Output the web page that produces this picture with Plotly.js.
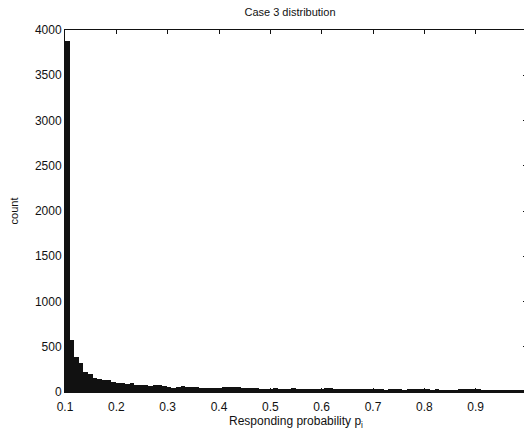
<!DOCTYPE html>
<html>
<head>
<meta charset="utf-8">
<script src="https://cdn.plot.ly/plotly-3.0.1.min.js"></script>
<style>
html,body{margin:0;padding:0;overflow:hidden;background:#fff;}
#chart{width:540px;height:435px;}
</style>
</head>
<body>
<div id="chart"></div>
<script>
// Histogram of responding probability (100 bins from 0.1 to 1.0)
const binStart = 0.1;
const binWidth = 0.009;
const counts = [
  3880, 580, 390, 320, 220, 200, 155, 145, 133, 130,
  110, 100, 95, 85, 95, 80, 80, 82, 70, 82,
  78, 62, 56, 46, 60, 66, 56, 54, 50, 48,
  45, 44, 42, 48, 50, 56, 58, 52, 46, 44,
  42, 40, 38, 36, 38, 42, 36, 34, 38, 40,
  34, 32, 34, 36, 32, 36, 42, 44, 36, 32,
  30, 30, 28, 32, 30, 34, 36, 30, 28, 26,
  28, 30, 28, 26, 28, 30, 32, 34, 28, 26,
  28, 24, 26, 22, 18, 30, 36, 34, 30, 28,
  26, 24, 26, 24, 26, 24, 22, 24, 22, 26
];
const xTickVals = [0.1, 0.2, 0.3, 0.4, 0.5, 0.6, 0.7, 0.8, 0.9, 1.0];
const xTickText = ["0.1", "0.2", "0.3", "0.4", "0.5", "0.6", "0.7", "0.8", "0.9", "1"];
const yTickVals = [0, 500, 1000, 1500, 2000, 2500, 3000, 3500, 4000];

const binCenters = counts.map((_, i) => binStart + binWidth * (i + 0.5));

const font = {family: "Liberation Sans, Arial, sans-serif", size: 12, color: "#111"};

const trace = {
  type: "bar",
  x: binCenters,
  y: counts,
  width: binWidth,
  marker: {color: "#111", line: {width: 0}},
  hoverinfo: "x+y"
};

const layout = {
  width: 540,
  height: 435,
  margin: {l: 65, r: 13, t: 30, b: 43},
  paper_bgcolor: "#fff",
  plot_bgcolor: "#fff",
  font: font,
  showlegend: false,
  bargap: 0,
  title: {
    text: "Case 3 distribution",
    font: {family: "Liberation Sans, Arial, sans-serif", size: 11, color: "#111"},
    xref: "container", x: 290/540, xanchor: "center",
    yref: "container", y: 1 - 12/435, yanchor: "middle"
  },
  xaxis: {
    range: [0.1, 1.0],
    tickvals: xTickVals,
    ticktext: xTickText,
    ticks: "inside",
    ticklen: 4,
    tickcolor: "#111",
    showline: true,
    linecolor: "#111",
    linewidth: 1,
    mirror: "ticks",
    showgrid: false,
    zeroline: false,
    ticklabelstandoff: 4,
    tickfont: font,
    title: {text: "Responding probability p<sub>i</sub>", font: font, standoff: 2}
  },
  yaxis: {
    range: [0, 4000],
    tickvals: yTickVals,
    ticks: "inside",
    ticklen: 4,
    tickcolor: "#111",
    showline: true,
    linecolor: "#111",
    linewidth: 1,
    mirror: "ticks",
    showgrid: false,
    zeroline: false,
    tickfont: font,
    title: {text: "count", font: {family: "Liberation Sans, Arial, sans-serif", size: 11, color: "#111"}, standoff: 14}
  }
};

Plotly.newPlot("chart", [trace], layout, {displayModeBar: false, staticPlot: true});
</script>
</body>
</html>
